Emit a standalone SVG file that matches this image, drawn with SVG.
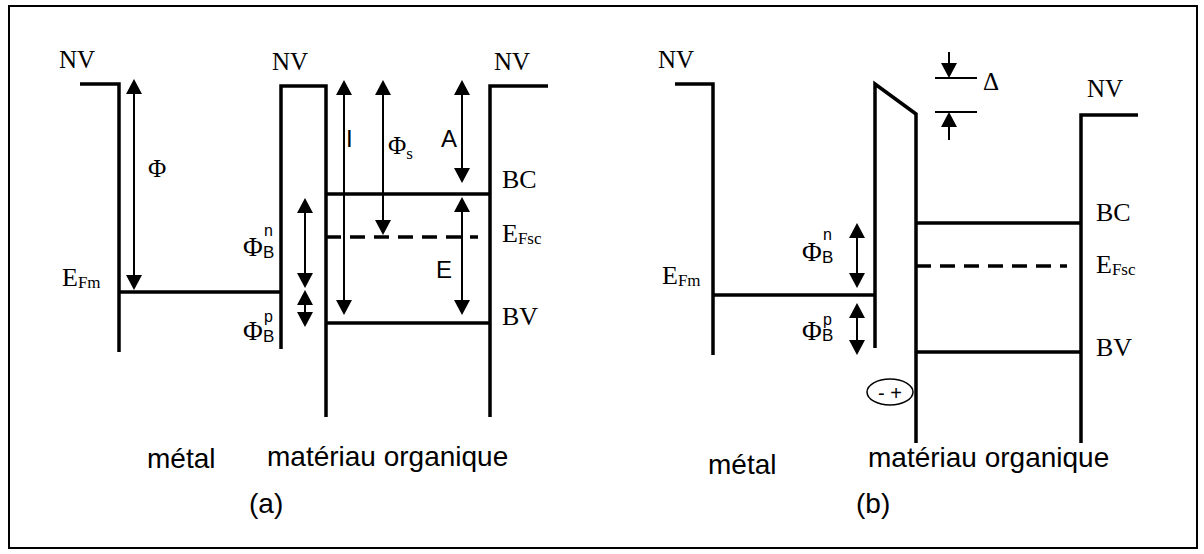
<svg xmlns="http://www.w3.org/2000/svg" width="1204" height="554" viewBox="0 0 1204 554">
<style>
.ln{fill:none;stroke:#000;stroke-width:3.5;stroke-linejoin:miter}
.dash{fill:none;stroke:#000;stroke-width:3.5;stroke-dasharray:15 9}
.ar{fill:none;stroke:#000;stroke-width:2}
.thin{fill:none;stroke:#000;stroke-width:2}
.serif{font-family:"Liberation Serif","Times New Roman",serif;fill:#000}
.sans{font-family:"Liberation Sans",Arial,sans-serif;fill:#000}
.big{font-size:25px}
.sub{font-size:17px}
.lab{font-size:24px}
.cap{font-size:28px}
</style>
<defs>
<marker id="ah" markerUnits="userSpaceOnUse" markerWidth="16" markerHeight="16" refX="10" refY="8" orient="auto-start-reverse" viewBox="0 0 16 16">
<path d="M0,0 L15,8 L0,16 z" fill="#000"/>
</marker>
</defs>
<rect x="0" y="0" width="1204" height="554" fill="#fff"/>
<rect x="9" y="6" width="1188" height="542" fill="none" stroke="#000" stroke-width="2"/>

<!-- Panel (a) -->
<g id="a-metal">
<path class="ln" d="M80,84 H119 V352"/>
<line class="ln" x1="119" y1="292" x2="281" y2="292"/>
<text class="serif big" x="59" y="68">NV</text>
<text class="serif" x="62" y="286" font-size="26">E<tspan font-size="17" dy="2">Fm</tspan></text>
</g>
<g id="a-interface">
<path class="ln" d="M281,349 V86 H326 V417"/>
<text class="serif big" x="272" y="70">NV</text>
</g>
<g id="a-organic">
<path class="ln" d="M490,417 V86 H548"/>
<line class="ln" x1="326" y1="194" x2="490" y2="194"/>
<line class="ln" x1="326" y1="323" x2="490" y2="323"/>
<line class="dash" x1="326" y1="237" x2="478" y2="237"/>
<text class="serif big" x="494" y="70">NV</text>
<text class="serif" x="502" y="188" font-size="26">BC</text>
<text class="serif" x="502" y="242" font-size="26">E<tspan font-size="17" dy="2">Fsc</tspan></text>
<text class="serif" x="502" y="325" font-size="26">BV</text>
</g>
<g id="a-labels">
<text class="serif big" x="148" y="177">Φ</text>
<text class="sans lab" x="346" y="147">I</text>
<text class="serif big" x="388" y="154">Φ<tspan font-size="17" dy="5">s</tspan></text>
<text class="sans lab" x="441" y="147">A</text>
<text class="sans lab" x="436" y="278">E</text>
<text class="serif" x="243" y="256" font-size="27">Φ</text>
<text class="sans sub" x="263" y="258">B</text>
<text class="sans" x="264" y="236" font-size="16">n</text>
<text class="serif" x="243" y="340" font-size="27">Φ</text>
<text class="sans sub" x="263" y="342">B</text>
<text class="sans" x="264" y="322" font-size="16">p</text>
<text class="sans cap" x="147" y="468">métal</text>
<text class="sans cap" x="267" y="466">matériau organique</text>
<text class="sans cap" x="249" y="513">(a)</text>
</g>

<!-- Panel (b) -->
<g id="b-metal">
<path class="ln" d="M675,84 H713 V355"/>
<line class="ln" x1="713" y1="295" x2="875" y2="295"/>
<text class="serif big" x="658" y="68">NV</text>
<text class="serif" x="662" y="284" font-size="26">E<tspan font-size="17" dy="2">Fm</tspan></text>
</g>
<g id="b-interface">
<path class="ln" d="M875,348 V84 L916,114 V443"/>
<ellipse cx="890" cy="392" rx="23" ry="13" fill="none" stroke="#000" stroke-width="1.5"/>
<text class="sans" x="890" y="400" font-size="20" text-anchor="middle">- +</text>
</g>
<g id="b-organic">
<path class="ln" d="M1081,443 V115 H1138"/>
<line class="ln" x1="916" y1="223" x2="1081" y2="223"/>
<line class="ln" x1="916" y1="352" x2="1081" y2="352"/>
<line class="dash" x1="916" y1="266" x2="1067" y2="266"/>
<text class="serif big" x="1087" y="97">NV</text>
<text class="serif" x="1096" y="221" font-size="26">BC</text>
<text class="serif" x="1096" y="273" font-size="26">E<tspan font-size="17" dy="2">Fsc</tspan></text>
<text class="serif" x="1096" y="356" font-size="26">BV</text>
</g>
<g id="b-delta">
<line class="thin" x1="935" y1="78" x2="977" y2="78"/>
<line class="thin" x1="935" y1="112" x2="977" y2="112"/>
<text class="serif big" x="983" y="90">Δ</text>
</g>
<g id="b-labels">
<text class="serif" x="802" y="261" font-size="27">Φ</text>
<text class="sans sub" x="822" y="263">B</text>
<text class="sans" x="823" y="240" font-size="16">n</text>
<text class="serif" x="802" y="340" font-size="27">Φ</text>
<text class="sans sub" x="822" y="341">B</text>
<text class="sans" x="823" y="325" font-size="16">p</text>
<text class="sans cap" x="708" y="474">métal</text>
<text class="sans cap" x="868" y="467">matériau organique</text>
<text class="sans cap" x="856" y="513">(b)</text>
</g>

<!-- Connectors (arrows) -->
<g id="connectors">
<line class="ar" x1="134" y1="84" x2="134" y2="285" marker-start="url(#ah)" marker-end="url(#ah)"/>
<line class="ar" x1="344" y1="85" x2="344" y2="310" marker-start="url(#ah)" marker-end="url(#ah)"/>
<line class="ar" x1="383" y1="85" x2="383" y2="230" marker-start="url(#ah)" marker-end="url(#ah)"/>
<line class="ar" x1="462" y1="85" x2="462" y2="178" marker-start="url(#ah)" marker-end="url(#ah)"/>
<line class="ar" x1="462" y1="202" x2="462" y2="310" marker-start="url(#ah)" marker-end="url(#ah)"/>
<line class="ar" x1="305" y1="203" x2="305" y2="283" marker-start="url(#ah)" marker-end="url(#ah)"/>
<line class="ar" x1="305" y1="295" x2="305" y2="322" marker-start="url(#ah)" marker-end="url(#ah)"/>
<line class="ar" x1="857" y1="228" x2="857" y2="283" marker-start="url(#ah)" marker-end="url(#ah)"/>
<line class="ar" x1="857" y1="308" x2="857" y2="350" marker-start="url(#ah)" marker-end="url(#ah)"/>
<line class="ar" x1="949" y1="52" x2="949" y2="73" marker-end="url(#ah)"/>
<line class="ar" x1="949" y1="140" x2="949" y2="117" marker-end="url(#ah)"/>
</g>
</svg>
